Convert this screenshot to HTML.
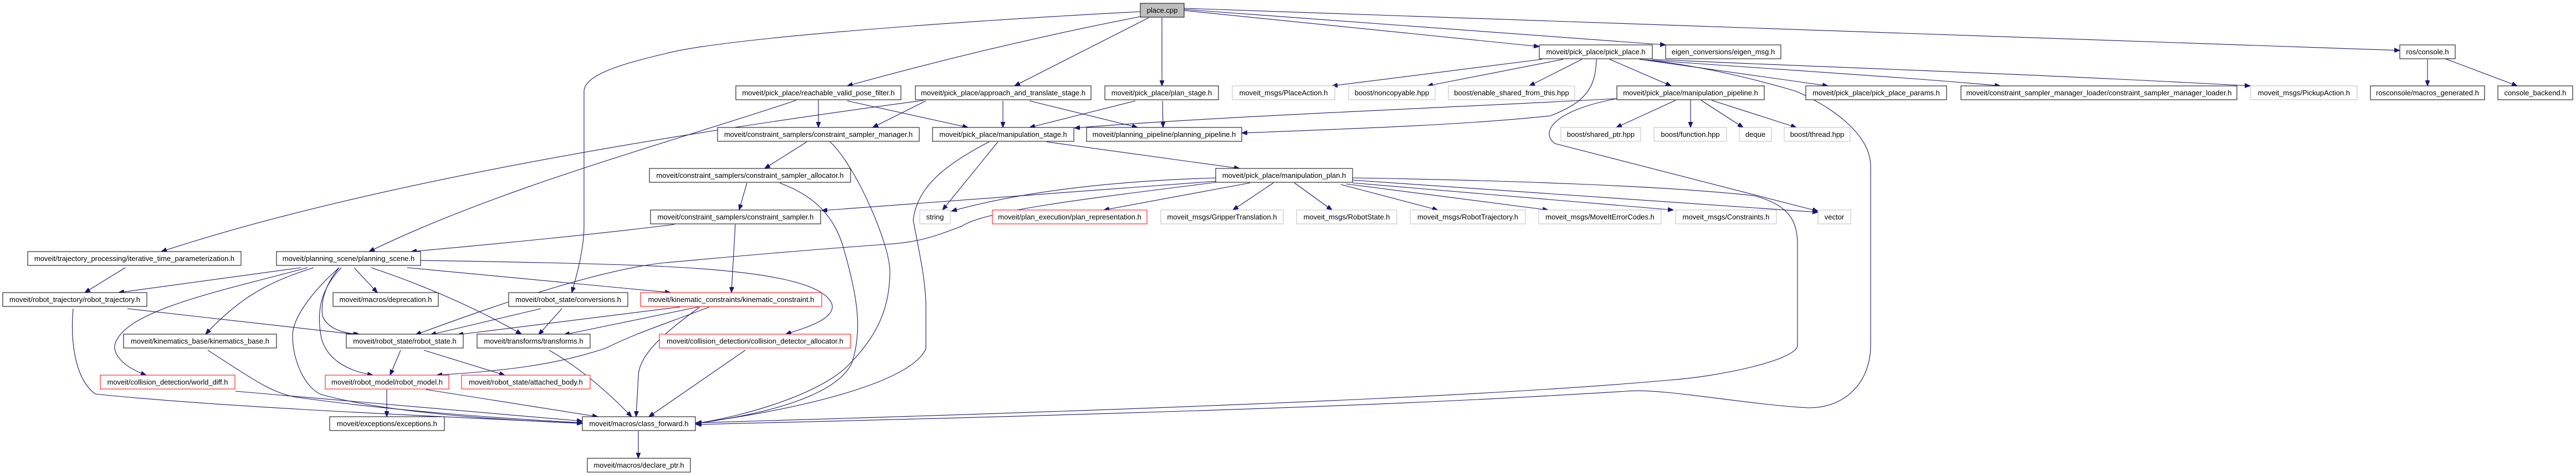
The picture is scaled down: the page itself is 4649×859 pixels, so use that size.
<!DOCTYPE html>
<html><head><meta charset="utf-8"><style>
html,body{margin:0;padding:0;background:#fff;}
svg{display:block;}
text{font-family:"Liberation Sans",sans-serif;font-size:13px;fill:#000;text-anchor:middle;}
.e{fill:none;stroke:#191970;stroke-width:1.1;marker-end:url(#a);}
.n{fill:#fff;stroke:#000;stroke-width:1;}
.g{fill:#fff;stroke:#bfbfbf;stroke-width:1;}
.r{fill:#fff;stroke:#ff0000;stroke-width:1;}
</style></head><body>
<svg width="4649" height="859" viewBox="0 0 4649 859" xmlns="http://www.w3.org/2000/svg">
<defs><marker id="a" markerWidth="11" markerHeight="8" refX="10" refY="4" orient="auto" markerUnits="userSpaceOnUse"><path d="M0,0 L10,4 L0,8 Z" fill="#191970" stroke="#191970"/></marker></defs>
<g>
<path class="e" d="M2137,19 L2778,84"/>
<path class="e" d="M2137,17 L3006,81"/>
<path class="e" d="M2137,15 L4331,91"/>
<path class="e" d="M2058,30 Q1800,80 1529,155"/>
<path class="e" d="M2073,32 L1831,155"/>
<path class="e" d="M2097,32 L2097,155"/>
<path class="e" d="M2058,21 C1700,40 1300,70 1200,97 C1100,120 1054,140 1054,165 L1054,408 C1054,450 1040,500 1032,528"/>
<path class="e" d="M1667,181 C1300,230 700,320 291,454"/>
<path class="e" d="M1437,181 C1200,260 900,340 666,454"/>
<path class="e" d="M1217,405 C1100,420 900,440 742,454"/>
<path class="e" d="M1477,181 L1477,230"/>
<path class="e" d="M1529,182 L1747,230"/>
<path class="e" d="M1671,182 L1575,230"/>
<path class="e" d="M1810,182 L1810,230"/>
<path class="e" d="M1858,182 L2053,230"/>
<path class="e" d="M2049,182 L1858,230"/>
<path class="e" d="M2098,182 L2099,230"/>
<path class="e" d="M1456,256 L1380,304"/>
<path class="e" d="M1498,256 C1544,298 1606,440 1606,490 C1606,560 1580,610 1530,660 C1480,710 1350,750 1256,764"/>
<path class="e" d="M1407,330 C1460,350 1500,380 1520,440 C1550,540 1556,600 1537,656 C1510,710 1400,745 1256,764"/>
<path class="e" d="M1785,256 C1700,300 1655,340 1648,397 C1660,460 1672,513 1671,560 L1671,629 C1650,680 1500,730 1256,764"/>
<path class="e" d="M1348,330 L1334,379"/>
<path class="e" d="M1327,405 L1320,528"/>
<path class="e" d="M1801,256 L1701,379"/>
<path class="e" d="M1889,256 L2237,304"/>
<path class="e" d="M2918,178 C2600,195 2200,210 1939,231"/>
<path class="e" d="M2881,107 C2880,160 2860,185 2798,209 C2650,225 2450,232 2241,240"/>
<path class="e" d="M2918,178 C2800,200 2780,240 2806,259 L3281,381"/>
<path class="e" d="M2783,107 L2404,155"/>
<path class="e" d="M2821,107 L2576,155"/>
<path class="e" d="M2855,107 L2760,155"/>
<path class="e" d="M2905,107 L3016,155"/>
<path class="e" d="M2959,107 L3299,155"/>
<path class="e" d="M2970,108 C3200,125 3450,140 3610,155"/>
<path class="e" d="M2982,107 C3250,120 3600,130 4061,155"/>
<path class="e" d="M2959,107 C3100,120 3242,165 3242,165 C3300,190 3376,240 3376,300 L3376,623 C3376,690 3330,736 3265,736 C3150,730 3000,700 2936,706 C2700,720 2400,739 1256,766"/>
<path class="e" d="M2441,321 C2700,325 3000,335 3165,353 C3230,370 3244,400 3244,441 L3244,623 C3244,650 3100,680 3012,686 C2800,705 2400,730 1256,763"/>
<path class="e" d="M2441,325 L3281,383"/>
<path class="e" d="M2441,330 L3020,379"/>
<path class="e" d="M2430,332 L2794,379"/>
<path class="e" d="M2420,333 L2595,379"/>
<path class="e" d="M2336,330 L2404,379"/>
<path class="e" d="M2298,330 L2225,379"/>
<path class="e" d="M2256,330 L1992,379"/>
<path class="e" d="M2195,321 Q1900,330 1717,381"/>
<path class="e" d="M2195,327 L1483,380"/>
<path class="e" d="M2195,329 C1950,360 1780,380 1736,408 C1680,430 1650,438 1598,441 C1400,455 1250,470 1200,474 C1100,485 950,530 750,604"/>
<path class="e" d="M759,470 C900,472 1100,476 1200,481 C1380,490 1491,510 1502,551 C1505,575 1460,590 1418,603"/>
<path class="e" d="M735,483 L1210,528"/>
<path class="e" d="M543,483 L214,528"/>
<path class="e" d="M555,483 C400,525 222,560 207,623 C205,645 230,665 264,677"/>
<path class="e" d="M566,483 C480,510 430,540 371,603"/>
<path class="e" d="M639,483 L681,528"/>
<path class="e" d="M612,483 C590,510 578,540 582,570 C590,590 610,600 650,604"/>
<path class="e" d="M616,483 C580,520 570,560 580,610 C590,650 630,670 673,677"/>
<path class="e" d="M612,483 C570,520 528,570 528,606 C528,650 550,700 580,712 C700,745 900,758 1051,764"/>
<path class="e" d="M670,483 C750,510 850,550 941,603"/>
<path class="e" d="M226,483 L153,528"/>
<path class="e" d="M230,557 L647,604"/>
<path class="e" d="M132,557 C128,600 130,680 172,711 C400,735 800,752 1051,764"/>
<path class="e" d="M976,557 L777,604"/>
<path class="e" d="M1014,557 L972,604"/>
<path class="e" d="M1227,554 L826,604"/>
<path class="e" d="M1260,554 L1018,604"/>
<path class="e" d="M1280,554 C1200,585 1150,600 1094,628 C1000,660 900,670 788,677"/>
<path class="e" d="M1263,554 C1200,600 1152,640 1152,680 L1148,752"/>
<path class="e" d="M375,632 C450,680 490,710 536,717 C700,740 900,755 1051,763"/>
<path class="e" d="M723,632 L704,677"/>
<path class="e" d="M765,632 L911,677"/>
<path class="e" d="M991,632 C1040,660 1090,700 1140,752"/>
<path class="e" d="M1345,632 L1171,752"/>
<path class="e" d="M425,706 L1051,760"/>
<path class="e" d="M698,703 L698,752"/>
<path class="e" d="M769,703 L1079,752"/>
<path class="e" d="M1152,778 L1152,827"/>
<path class="e" d="M4381,107 L4381,155"/>
<path class="e" d="M4413,106 L4543,155"/>
<path class="e" d="M3024,181 L2917,230"/>
<path class="e" d="M3051,181 L3051,230"/>
<path class="e" d="M3070,181 L3146,230"/>
<path class="e" d="M3089,181 L3242,230"/>
</g>
<g>
<rect x="2058" y="6" width="79" height="25" fill="#bfbfbf" stroke="#000"/><text x="2097.5" y="23">place.cpp</text>
<rect class="n" x="2778" y="81" width="204" height="25"/><text x="2880" y="98">moveit/pick_place/pick_place.h</text>
<rect class="n" x="3006" y="81" width="208" height="25"/><text x="3110" y="98">eigen_conversions/eigen_msg.h</text>
<rect class="n" x="4331" y="81" width="100" height="25"/><text x="4381" y="98">ros/console.h</text>

<rect class="n" x="1328" y="155" width="298" height="25"/><text x="1477" y="172">moveit/pick_place/reachable_valid_pose_filter.h</text>
<rect class="n" x="1652" y="155" width="317" height="25"/><text x="1810.5" y="172">moveit/pick_place/approach_and_translate_stage.h</text>
<rect class="n" x="1994" y="155" width="205" height="25"/><text x="2096.5" y="172">moveit/pick_place/plan_stage.h</text>
<rect class="g" x="2224" y="155" width="185" height="25"/><text x="2316.5" y="172">moveit_msgs/PlaceAction.h</text>
<rect class="g" x="2434" y="155" width="156" height="25"/><text x="2512" y="172">boost/noncopyable.hpp</text>
<rect class="g" x="2614" y="155" width="228" height="25"/><text x="2728" y="172">boost/enable_shared_from_this.hpp</text>
<rect class="n" x="2918" y="155" width="266" height="25"/><text x="3051" y="172">moveit/pick_place/manipulation_pipeline.h</text>
<rect class="n" x="3259" y="155" width="254" height="25"/><text x="3386" y="172">moveit/pick_place/pick_place_params.h</text>
<rect class="n" x="3539" y="155" width="498" height="25"/><text x="3788" y="172">moveit/constraint_sampler_manager_loader/constraint_sampler_manager_loader.h</text>
<rect class="g" x="4062" y="155" width="192" height="25"/><text x="4158" y="172">moveit_msgs/PickupAction.h</text>
<rect class="n" x="4278" y="155" width="206" height="25"/><text x="4381" y="172">rosconsole/macros_generated.h</text>
<rect class="n" x="4508" y="155" width="135" height="25"/><text x="4575.5" y="172">console_backend.h</text>

<rect class="n" x="1295" y="230" width="364" height="25"/><text x="1477" y="247">moveit/constraint_samplers/constraint_sampler_manager.h</text>
<rect class="n" x="1683" y="230" width="255" height="25"/><text x="1810.5" y="247">moveit/pick_place/manipulation_stage.h</text>
<rect class="n" x="1961" y="230" width="280" height="25"/><text x="2101" y="247">moveit/planning_pipeline/planning_pipeline.h</text>
<rect class="g" x="2817" y="230" width="144" height="25"/><text x="2889" y="247">boost/shared_ptr.hpp</text>
<rect class="g" x="2985" y="230" width="131" height="25"/><text x="3050.5" y="247">boost/function.hpp</text>
<rect class="g" x="3139" y="230" width="58" height="25"/><text x="3168" y="247">deque</text>
<rect class="g" x="3220" y="230" width="119" height="25"/><text x="3279.5" y="247">boost/thread.hpp</text>

<rect class="n" x="1172" y="304" width="363" height="25"/><text x="1353.5" y="321">moveit/constraint_samplers/constraint_sampler_allocator.h</text>
<rect class="n" x="2194" y="304" width="247" height="25"/><text x="2317.5" y="321">moveit/pick_place/manipulation_plan.h</text>

<rect class="n" x="1174" y="379" width="307" height="25"/><text x="1327.5" y="396">moveit/constraint_samplers/constraint_sampler.h</text>
<rect class="g" x="1660" y="379" width="55" height="25"/><text x="1687.5" y="396">string</text>
<rect class="r" x="1791" y="379" width="279" height="25"/><text x="1930.5" y="396">moveit/plan_execution/plan_representation.h</text>
<rect class="g" x="2095" y="379" width="221" height="25"/><text x="2205.5" y="396">moveit_msgs/GripperTranslation.h</text>
<rect class="g" x="2340" y="379" width="181" height="25"/><text x="2430.5" y="396">moveit_msgs/RobotState.h</text>
<rect class="g" x="2545" y="379" width="208" height="25"/><text x="2649" y="396">moveit_msgs/RobotTrajectory.h</text>
<rect class="g" x="2777" y="379" width="221" height="25"/><text x="2887.5" y="396">moveit_msgs/MoveItErrorCodes.h</text>
<rect class="g" x="3024" y="379" width="182" height="25"/><text x="3115" y="396">moveit_msgs/Constraints.h</text>
<rect class="g" x="3281" y="379" width="59" height="25"/><text x="3310.5" y="396">vector</text>

<rect class="n" x="50" y="454" width="385" height="25"/><text x="242.5" y="471">moveit/trajectory_processing/iterative_time_parameterization.h</text>
<rect class="n" x="499" y="454" width="260" height="25"/><text x="629" y="471">moveit/planning_scene/planning_scene.h</text>

<rect class="n" x="5" y="528" width="260" height="25"/><text x="135" y="545">moveit/robot_trajectory/robot_trajectory.h</text>
<rect class="n" x="601" y="528" width="190" height="25"/><text x="696" y="545">moveit/macros/deprecation.h</text>
<rect class="n" x="918" y="528" width="215" height="25"/><text x="1025.5" y="545">moveit/robot_state/conversions.h</text>
<rect class="r" x="1156" y="528" width="327" height="25"/><text x="1319.5" y="545">moveit/kinematic_constraints/kinematic_constraint.h</text>

<rect class="n" x="223" y="603" width="276" height="25"/><text x="361" y="620">moveit/kinematics_base/kinematics_base.h</text>
<rect class="n" x="625" y="603" width="211" height="25"/><text x="730.5" y="620">moveit/robot_state/robot_state.h</text>
<rect class="n" x="861" y="603" width="204" height="25"/><text x="963" y="620">moveit/transforms/transforms.h</text>
<rect class="r" x="1190" y="603" width="345" height="25"/><text x="1362.5" y="620">moveit/collision_detection/collision_detector_allocator.h</text>

<rect class="r" x="181" y="677" width="243" height="25"/><text x="302.5" y="694">moveit/collision_detection/world_diff.h</text>
<rect class="r" x="587" y="677" width="223" height="25"/><text x="698.5" y="694">moveit/robot_model/robot_model.h</text>
<rect class="r" x="833" y="677" width="232" height="25"/><text x="949" y="694">moveit/robot_state/attached_body.h</text>

<rect class="n" x="595" y="752" width="207" height="25"/><text x="698.5" y="769">moveit/exceptions/exceptions.h</text>
<rect class="n" x="1051" y="752" width="204" height="25"/><text x="1153" y="769">moveit/macros/class_forward.h</text>

<rect class="n" x="1060" y="827" width="186" height="25"/><text x="1153" y="844">moveit/macros/declare_ptr.h</text>
</g>
</svg>
</body></html>
